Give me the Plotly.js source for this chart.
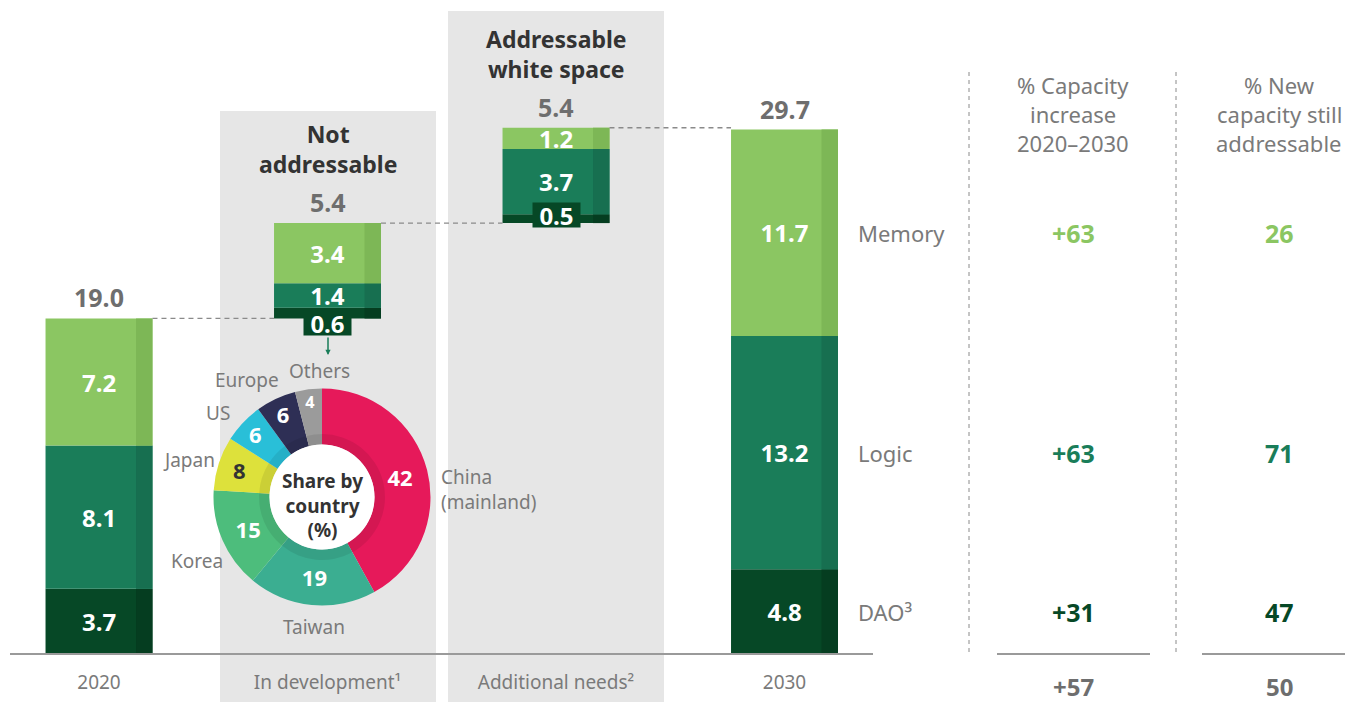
<!DOCTYPE html>
<html>
<head>
<meta charset="utf-8">
<script src="https://cdn.plot.ly/plotly-3.0.1.min.js"></script>
<style>
  html, body { margin: 0; padding: 0; background: #fff; }
  #chart { width: 1345px; height: 702px; }
</style>
</head>
<body>
<div id="chart"></div>
<script>
// ---------------- DATA ----------------
const categories = ['2020', 'In development¹', 'Additional needs²', '2030'];
const memory = [7.2, 3.4, 1.2, 11.7];
const logic = [8.1, 1.4, 3.7, 13.2];
const dao = [3.7, 0.6, 0.5, 4.8];
const totalLabels = ['19.0', '5.4', '5.4', '29.7'];
const floating = [false, true, true, false];

const rowLabels = ['Memory', 'Logic', 'DAO³'];
const capacityIncrease = ['+63', '+63', '+31'];
const stillAddressable = ['26', '71', '47'];
const capacityIncreaseTotal = '+57';
const stillAddressableTotal = '50';
const colHeader1 = ['% Capacity', 'increase', '2020–2030'];
const colHeader2 = ['% New', 'capacity still', 'addressable'];

const countries = ['China<br>(mainland)', 'Taiwan', 'Korea', 'Japan', 'US', 'Europe', 'Others'];
const shares = [42, 19, 15, 8, 6, 6, 4];

// ---------------- STYLE ----------------
const FONT = 'Noto Sans, sans-serif';
const W = 1345, PH = 654; // plot area height (baseline at 654 px)
const px = x => x / W;
const py = y => (PH - y) / PH;

const colMem = '#8BC662', colMemD = '#7DB756';
const colLog = '#1A7D59', colLogD = '#176F50';
const colDao = '#064826', colDaoD = '#053D20';
const grey = '#6e6e6e', lightGrey = '#7a7a7a';

const countryColors = ['#E6195A', '#3BAE91', '#4DBD7C', '#DDE13B', '#29BFD8', '#2E2F55', '#9B9B9B'];
const countryTextColors = ['#fff', '#fff', '#fff', '#333', '#fff', '#fff', '#fff'];
// label positions (px) for donut outside labels
const countryLabelPos = [[439, 489, 'left'], [314, 627, 'center'], [197, 561, 'center'], [189, 460, 'center'],
                         [218, 413, 'center'], [247, 380, 'center'], [319, 371, 'center']];
// vertical pixel shift of the boxed small-value labels per column
const smallLabelShift = [0, -10, 4, 0];

// ---------------- DERIVED ----------------
const sums = categories.map((_, i) => dao[i] + logic[i] + memory[i]);
const start = [];
let running = 0;
categories.forEach((_, i) => {
  if (floating[i]) { start.push(running); running += sums[i]; }
  else { start.push(0); running = sums[i]; }
});
const daoBase = start.slice();
const logBase = start.map((s, i) => s + dao[i]);
const memBase = start.map((s, i) => s + dao[i] + logic[i]);
const tops = start.map((s, i) => s + sums[i]);

const BW = 0.468, SW = 0.072, SOFF = BW / 2 - SW;

function mainBar(vals, base, color, textArr) {
  return {
    type: 'bar', x: categories, y: vals, base: base, width: BW,
    marker: { color: color, line: { width: 0 } },
    text: textArr, texttemplate: '<b>%{text}</b>', textposition: 'inside',
    insidetextanchor: 'middle', constraintext: 'none',
    textfont: { family: FONT, size: 24, color: '#fff' },
    hoverinfo: 'skip', showlegend: false
  };
}
function shadeBar(vals, base, color) {
  return {
    type: 'bar', x: categories, y: vals, base: base, width: SW, offset: SOFF,
    marker: { color: color, line: { width: 0 } },
    textposition: 'none', hoverinfo: 'skip', showlegend: false
  };
}
const fmt = v => v.toFixed(1);

const traces = [
  mainBar(dao, daoBase, colDao, dao.map(v => v < 1 ? '' : fmt(v))),
  shadeBar(dao, daoBase, colDaoD),
  mainBar(logic, logBase, colLog, logic.map(fmt)),
  shadeBar(logic, logBase, colLogD),
  mainBar(memory, memBase, colMem, memory.map(fmt)),
  shadeBar(memory, memBase, colMemD)
];

// Donut
const cx = 322, cy = 497, R = 108.5, Rin = 52.5, Rring = 63;
const dom = r => ({ x: [px(cx - r), px(cx + r)], y: [py(cy + r), py(cy - r)] });
traces.push({
  type: 'pie', values: shares, labels: countries, sort: false, direction: 'clockwise', rotation: 0,
  hole: Rin / R, domain: dom(R),
  marker: { colors: countryColors, line: { width: 0 } },
  texttemplate: '<b>%{value}</b>', textinfo: 'value', textposition: 'inside',
  insidetextorientation: 'horizontal',
  textfont: { family: FONT, size: 22, color: countryTextColors },
  hoverinfo: 'skip', showlegend: false
});
traces.push({
  type: 'pie', values: shares, labels: countries, sort: false, direction: 'clockwise', rotation: 0,
  hole: Rin / Rring, domain: dom(Rring),
  marker: { colors: shares.map(() => 'rgba(0,0,0,0.08)'), line: { width: 0 } },
  textinfo: 'none', hoverinfo: 'skip', showlegend: false
});
traces.push({
  type: 'pie', values: [1], labels: ['center'], domain: dom(Rin),
  marker: { colors: ['#ffffff'], line: { width: 0 } },
  textinfo: 'none', hoverinfo: 'skip', showlegend: false
});

// ---------------- SHAPES ----------------
const shapes = [
  { type: 'rect', xref: 'paper', yref: 'paper', x0: px(220), x1: px(436), y0: py(702), y1: py(111),
    fillcolor: '#E6E6E6', line: { width: 0 }, layer: 'below' },
  { type: 'rect', xref: 'paper', yref: 'paper', x0: px(448), x1: px(664), y0: py(702), y1: py(11),
    fillcolor: '#E6E6E6', line: { width: 0 }, layer: 'below' },
  { type: 'line', xref: 'paper', yref: 'paper', x0: px(10), x1: px(873), y0: 0, y1: 0,
    line: { color: '#9a9a9a', width: 2 } },
  { type: 'line', xref: 'paper', yref: 'paper', x0: px(997), x1: px(1150), y0: 0, y1: 0,
    line: { color: '#9a9a9a', width: 2 } },
  { type: 'line', xref: 'paper', yref: 'paper', x0: px(1202), x1: 1, y0: 0, y1: 0,
    line: { color: '#9a9a9a', width: 2 } },
  { type: 'line', xref: 'paper', yref: 'paper', x0: px(969), x1: px(969), y0: py(652), y1: py(72),
    line: { color: '#8a8a8a', width: 1, dash: '4px,4px' } },
  { type: 'line', xref: 'paper', yref: 'paper', x0: px(1176), x1: px(1176), y0: py(652), y1: py(72),
    line: { color: '#8a8a8a', width: 1, dash: '4px,4px' } }
];
for (let i = 0; i < categories.length - 1; i++) {
  shapes.push({ type: 'line', xref: 'x', yref: 'y', x0: i + BW / 2, x1: i + 1 - BW / 2, y0: tops[i], y1: tops[i],
    line: { color: '#8a8a8a', width: 1.3, dash: '5px,4px' } });
}

// ---------------- ANNOTATIONS ----------------
const ann = [];
const A = o => ann.push(Object.assign({ showarrow: false, xanchor: 'center', yanchor: 'middle' }, o));
// totals above bars
categories.forEach((c, i) => {
  A({ x: i, y: tops[i], xref: 'x', yref: 'y', text: '<b>' + totalLabels[i] + '</b>',
    yshift: 21, font: { family: FONT, size: 25, color: grey } });
});
// small DAO labels in dark boxes
categories.forEach((c, i) => {
  if (dao[i] < 1) {
    A({ x: i, y: daoBase[i] + dao[i] / 2, xref: 'x', yref: 'y', text: '<b>' + fmt(dao[i]) + '</b>',
      bgcolor: colDao, width: 47, height: 24, borderpad: 0, yshift: smallLabelShift[i],
      font: { family: FONT, size: 24, color: '#fff' } });
  }
});
// section headers
A({ x: 1, y: py(149), xref: 'x', yref: 'paper', text: '<b>Not<br>addressable</b>',
  font: { family: FONT, size: 23, color: '#333' } });
A({ x: 2, y: py(54), xref: 'x', yref: 'paper', text: '<b>Addressable<br>white space</b>',
  font: { family: FONT, size: 23, color: '#333' } });
// arrow from 0.6 box to donut
ann.push({ x: px(328), y: py(355), xref: 'paper', yref: 'paper', text: '', showarrow: true, ax: 0, ay: -19,
  arrowhead: 2, arrowsize: 0.7, arrowwidth: 1.5, arrowcolor: colLog });
// donut center text
A({ x: px(cx), y: py(505), xref: 'paper', yref: 'paper', text: '<b>Share by<br>country<br>(%)</b>',
  font: { family: FONT, size: 19, color: '#333' } });
// donut outside labels
countries.forEach((c, i) => {
  const p = countryLabelPos[i];
  A({ x: px(p[0]), y: py(p[1]), xref: 'paper', yref: 'paper', text: c,
    xanchor: p[2], align: p[2], font: { family: FONT, size: 19, color: lightGrey } });
});
// right table
const rowY = [memBase[3] + memory[3] / 2, logBase[3] + logic[3] / 2, daoBase[3] + dao[3] / 2];
const rowColors = [colMem, colLog, colDao];
rowLabels.forEach((r, i) => {
  A({ x: px(856), y: rowY[i], xref: 'paper', yref: 'y', text: r, xanchor: 'left',
    font: { family: FONT, size: 22, color: lightGrey } });
  A({ x: px(1073), y: rowY[i], xref: 'paper', yref: 'y', text: '<b>' + capacityIncrease[i] + '</b>',
    font: { family: FONT, size: 25, color: rowColors[i] } });
  A({ x: px(1279), y: rowY[i], xref: 'paper', yref: 'y', text: '<b>' + stillAddressable[i] + '</b>',
    font: { family: FONT, size: 25, color: rowColors[i] } });
});
const headerY = [85, 114, 143];
colHeader1.forEach((t, i) => A({ x: px(1073), y: py(headerY[i]), xref: 'paper', yref: 'paper', text: t,
  font: { family: FONT, size: 22, color: lightGrey } }));
colHeader2.forEach((t, i) => A({ x: px(1279), y: py(headerY[i]), xref: 'paper', yref: 'paper', text: t,
  font: { family: FONT, size: 22, color: lightGrey } }));
A({ x: px(1073), y: py(686), xref: 'paper', yref: 'paper', text: '<b>' + capacityIncreaseTotal + '</b>',
  borderpad: 0, font: { family: FONT, size: 24, color: grey } });
A({ x: px(1279), y: py(686), xref: 'paper', yref: 'paper', text: '<b>' + stillAddressableTotal + '</b>',
  borderpad: 0, font: { family: FONT, size: 24, color: grey } });

const layout = {
  width: 1345, height: 702,
  margin: { l: 0, r: 0, t: 0, b: 48, pad: 0 },
  paper_bgcolor: '#ffffff', plot_bgcolor: 'rgba(0,0,0,0)',
  barmode: 'overlay', showlegend: false,
  font: { family: FONT },
  xaxis: {
    type: 'category', categoryorder: 'array', categoryarray: categories,
    range: [-99 / 228.5, (1345 - 99) / 228.5],
    showgrid: false, zeroline: false, showline: false, ticks: '',
    ticklabelstandoff: 15,
    tickfont: { family: FONT, size: 19, color: lightGrey }, fixedrange: true
  },
  yaxis: { range: [0, 654 / 17.66], visible: false, fixedrange: true },
  shapes: shapes,
  annotations: ann
};

Plotly.newPlot('chart', traces, layout, { displayModeBar: false, staticPlot: true });
</script>
</body>
</html>
